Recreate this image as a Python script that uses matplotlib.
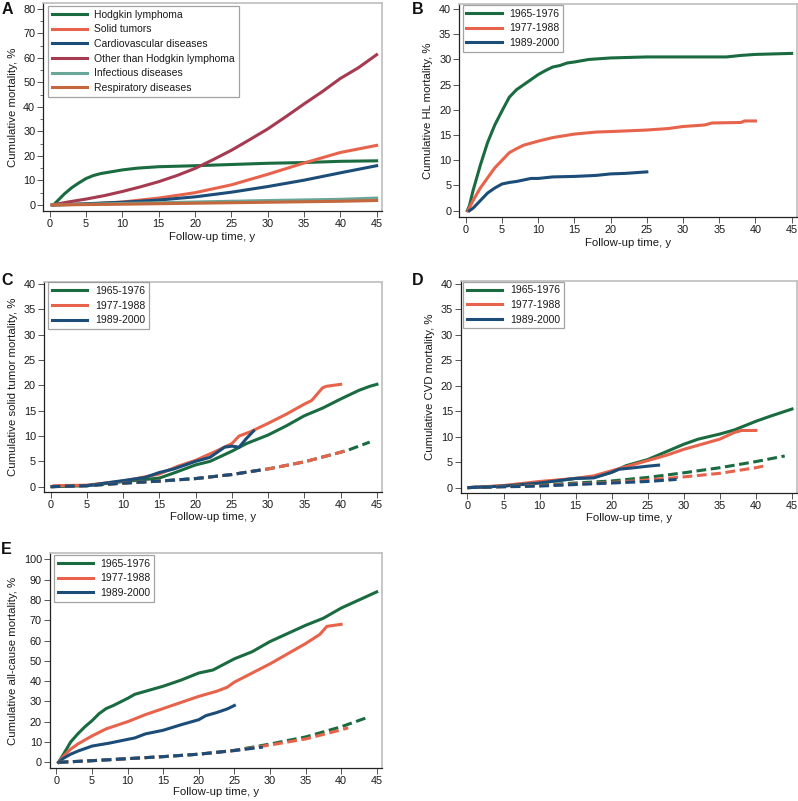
import matplotlib
matplotlib.use("Agg")
import matplotlib.pyplot as plt
from matplotlib.ticker import MultipleLocator

plt.rcParams['font.family'] = ['Liberation Sans', 'DejaVu Sans']

GREEN = '#1a6b40'
ORANGE = '#e8634b'
BLUE = '#1c4d78'
MAROON = '#a53a50'
TEAL = '#6aa698'
BROWN = '#c4673d'

cohorts = ['1965-1976', '1977-1988', '1989-2000']

# ---------------- Panel A ----------------
a_hl_x = [0.5, 1, 2, 3, 4, 5, 6, 7, 8, 9, 10, 12, 15, 20, 25, 30, 35, 40, 45]
a_hl_y = [0, 1.5, 4.5, 7, 9, 10.8, 12, 12.8, 13.3, 13.8, 14.3, 15, 15.6, 16, 16.5, 17, 17.3, 17.8, 18]
a_st_x = [0.5, 5, 10, 15, 20, 25, 30, 35, 40, 45]
a_st_y = [0, 0.3, 1.2, 2.8, 5, 8.2, 12.5, 17.1, 21.4, 24.3]
a_cvd_x = [0.5, 5, 10, 15, 20, 25, 30, 35, 40, 45]
a_cvd_y = [0, 0.5, 1.1, 2.0, 3.3, 5.2, 7.5, 10.1, 13.1, 16]
a_oth_x = [0.3, 2.5, 5, 7.5, 10, 12.5, 15, 17.5, 20, 22.5, 25, 27.5, 30, 32.5, 35, 37.5, 40, 42.5, 45]
a_oth_y = [0, 1.2, 2.4, 3.8, 5.5, 7.4, 9.5, 12, 14.9, 18.5, 22.3, 26.6, 31, 36, 41.2, 46.2, 51.6, 56, 61.3]
a_inf_x = [0.3, 10, 20, 30, 40, 45]
a_inf_y = [0, 0.6, 1.2, 1.8, 2.3, 2.8]
a_resp_x = [0.3, 10, 20, 30, 40, 45]
a_resp_y = [0, 0.3, 0.7, 1.1, 1.5, 1.8]
a_labels = ['Hodgkin lymphoma', 'Solid tumors', 'Cardiovascular diseases',
            'Other than Hodgkin lymphoma', 'Infectious diseases', 'Respiratory diseases']

# ---------------- Panel B (HL mortality) ----------------
b_g_x = [0.2, 0.5, 1, 1.5, 2, 3, 4, 5, 6, 7, 8, 9, 10, 11, 12, 13, 14, 15, 17, 20, 25, 36, 38, 40, 45]
b_g_y = [0, 1, 4, 6.5, 9, 13.5, 17, 19.8, 22.5, 24, 25, 26, 27, 27.8, 28.5, 28.8, 29.3, 29.5, 30, 30.3, 30.5, 30.5, 30.8, 31, 31.2]
b_o_x = [0.3, 1, 2, 3, 4, 5, 6, 7, 8, 10, 12, 15, 18, 20, 25, 28, 30, 33, 34, 38, 38.5, 40]
b_o_y = [0, 2, 4.5, 6.5, 8.5, 10, 11.5, 12.3, 13, 13.8, 14.5, 15.2, 15.6, 15.7, 16, 16.3, 16.7, 17, 17.4, 17.5, 17.8, 17.8]
b_b_x = [0.5, 1, 2, 3, 4, 5, 6, 7, 8, 9, 10, 12, 15, 18, 20, 22, 25]
b_b_y = [0, 0.5, 2, 3.5, 4.5, 5.3, 5.6, 5.8, 6.1, 6.4, 6.4, 6.7, 6.8, 7, 7.3, 7.4, 7.7]

# ---------------- Panel C (solid tumor mortality) ----------------
c_g_x = [0.3, 5, 10, 15, 17, 20, 22, 25, 27, 30, 32.5, 35, 37.5, 40, 42.5, 44, 45]
c_g_y = [0, 0.2, 1, 1.7, 2.7, 4.3, 5, 7, 8.5, 10.2, 12, 14, 15.5, 17.3, 19, 19.8, 20.2]
c_o_x = [0.5, 5, 10, 15, 17.5, 20, 22.5, 25, 26, 27.5, 30, 32.5, 35, 36, 37.5, 38, 40]
c_o_y = [0.2, 0.3, 1.1, 2.5, 4, 5.2, 6.8, 8.5, 10, 10.8, 12.5, 14.3, 16.3, 17, 19.5, 19.8, 20.2]
c_b_x = [5, 10, 13, 15, 17, 20, 22, 24, 25, 26, 27, 28]
c_b_y = [0.2, 1.2, 1.8, 2.8, 3.5, 5, 5.8, 7.8, 8, 7.8, 9.5, 11]
c_exp_x = [0, 5, 10, 15, 20, 25, 29, 30, 35, 40, 41, 44]
c_exp_y = [0, 0.2, 0.7, 1.1, 1.6, 2.4, 3.3, 3.5, 4.9, 6.8, 7.2, 8.8]
c_exp_end = [44, 41, 29]

# ---------------- Panel D (CVD mortality) ----------------
d_g_x = [0.2, 5, 10, 15, 17.5, 20, 22, 25, 27, 30, 32, 35, 37, 40, 42, 45]
d_g_y = [0, 0.3, 1, 1.8, 2, 3, 4.3, 5.5, 6.7, 8.5, 9.5, 10.5, 11.3, 13, 14, 15.4]
d_o_x = [0.2, 5, 10, 15, 17.5, 20, 22.5, 25, 27.5, 30, 32.5, 35, 37, 38, 40]
d_o_y = [0, 0.4, 1.2, 1.8, 2.3, 3.3, 4.3, 5.3, 6.3, 7.5, 8.5, 9.5, 10.8, 11.2, 11.2]
d_b_x = [0.2, 5, 10, 15, 17.5, 20, 21, 22.5, 25, 26.5]
d_b_y = [0, 0.3, 0.9, 1.8, 1.9, 3, 3.6, 3.8, 4.2, 4.4]
d_eg_x = [0, 10, 20, 25, 30, 35, 40, 44]
d_eg_y = [0, 0.5, 1.3, 2, 2.9, 3.9, 5.1, 6.2]
d_eo_x = [0, 10, 20, 25, 30, 35, 40, 41]
d_eo_y = [0, 0.4, 1, 1.5, 2.1, 2.8, 3.9, 4.2]
d_eb_x = [0, 10, 20, 25, 29]
d_eb_y = [0, 0.3, 0.9, 1.2, 1.6]

# ---------------- Panel E (all-cause mortality) ----------------
e_g_x = [0.3, 1, 2, 3, 4, 5, 6, 7, 8, 10, 11, 12, 15, 17.5, 20, 22, 25, 27.5, 30, 32.5, 35, 37.5, 40, 42.5, 45]
e_g_y = [0, 4, 10, 14, 17.5, 20.5, 24, 26.5, 28, 31.5, 33.5, 34.5, 37.5, 40.5, 44, 45.5, 51, 54.5, 59.5, 63.5, 67.5, 71, 76, 80, 84]
e_o_x = [0.3, 1, 2, 3, 4, 5, 7, 10, 12.5, 15, 17.5, 20, 22.5, 24, 25, 27.5, 30, 32.5, 35, 37, 38, 40]
e_o_y = [0, 3, 6.5, 9, 11, 13, 16.5, 20, 23.5, 26.5, 29.5, 32.5, 35, 37, 39.5, 44, 48.5, 53.5, 58.5, 63, 67, 68]
e_b_x = [0.3, 1, 2, 3, 5, 7.5, 10, 11, 12.5, 15, 17.5, 20, 21, 22.5, 24, 25]
e_b_y = [0, 2, 4, 5.5, 8, 9.5, 11.3, 12, 14, 15.8, 18.5, 21, 23, 24.5, 26.3, 28]
e_eg_x = [0.3, 5, 10, 15, 20, 25, 30, 35, 40, 44]
e_eg_y = [0, 0.8, 1.8, 2.8, 4, 5.9, 9, 12.5, 17.5, 22.5]
e_eo_x = [0.3, 5, 10, 15, 20, 25, 30, 35, 40, 41]
e_eo_y = [0, 0.8, 1.8, 2.8, 4, 5.8, 8.5, 11.5, 16, 17]
e_eb_x = [0.3, 5, 10, 15, 20, 25, 29]
e_eb_y = [0, 0.8, 1.8, 2.8, 4, 5.8, 7.5]

fig = plt.figure(figsize=(7.98, 8.01), dpi=100)
W, H = 798.0, 801.0

def make_ax(l, r, t, b):
    return fig.add_axes([l / W, 1 - b / H, (r - l) / W, (b - t) / H])

LW = 2.2
TXT = '#1a1a1a'
DASH = (0, (3.2, 1.5))

def style(ax, ylim, ymaj, ylabel, ymin=None, xlpad=2.5):
    ax.set_xlim(-0.9, 45.7)
    ax.set_ylim(*ylim)
    ax.xaxis.set_major_locator(MultipleLocator(5))
    ax.yaxis.set_major_locator(MultipleLocator(ymaj))
    if ymin:
        ax.yaxis.set_minor_locator(MultipleLocator(ymin))
        ax.tick_params(axis='y', which='minor', length=2.5, width=0.6, color='#555555')
    ax.tick_params(axis='both', which='major', direction='out', length=4, width=0.7,
                   labelsize=7.8, colors='#555555', labelcolor=TXT, pad=1.8)
    for s in ['left', 'bottom']:
        ax.spines[s].set_color('#222222')
        ax.spines[s].set_linewidth(0.9)
    for s in ['top', 'right']:
        ax.spines[s].set_color('#bdbdbd')
        ax.spines[s].set_linewidth(1.2)
    ax.set_xlabel('Follow-up time, y', fontsize=8.2, color=TXT, labelpad=xlpad)
    ax.set_ylabel(ylabel, fontsize=8.2, color=TXT, labelpad=4)

def letter(txt, x, y):
    fig.text(x / W, 1 - y / H, txt, fontsize=11.5, fontweight='bold',
             ha='left', va='top', color='#111111')

def leg(ax, anchor, fs=7.5):
    lg = ax.legend(loc='upper left', bbox_to_anchor=anchor, borderaxespad=0,
                   fontsize=fs, handlelength=3.4, handletextpad=0.7, labelspacing=0.45,
                   borderpad=0.35, fancybox=False, frameon=True)
    lg.get_frame().set_edgecolor('#8c8c8c')
    lg.get_frame().set_linewidth(0.9)
    for t in lg.get_texts():
        t.set_color(TXT)
    return lg

# Panel A
axA = make_ax(43.3, 381.7, 3, 210.7)
axA.plot(a_hl_x, a_hl_y, color=GREEN, lw=LW, label=a_labels[0], zorder=3)
axA.plot(a_st_x, a_st_y, color=ORANGE, lw=LW, label=a_labels[1], zorder=3)
axA.plot(a_cvd_x, a_cvd_y, color=BLUE, lw=LW, label=a_labels[2], zorder=3)
axA.plot(a_oth_x, a_oth_y, color=MAROON, lw=LW, label=a_labels[3], zorder=3)
axA.plot(a_inf_x, a_inf_y, color=TEAL, lw=LW, label=a_labels[4], zorder=3)
axA.plot(a_resp_x, a_resp_y, color=BROWN, lw=LW, label=a_labels[5], zorder=3)
style(axA, (-2.35, 82.4), 10, 'Cumulative mortality, %', ymin=5)
leg(axA, (0.014, 0.986))
letter('A', 2, 2)

# Panel B
axB = make_ax(459.3, 796.7, 4, 216.7)
axB.plot(b_g_x, b_g_y, color=GREEN, lw=LW, label=cohorts[0])
axB.plot(b_o_x, b_o_y, color=ORANGE, lw=LW, label=cohorts[1])
axB.plot(b_b_x, b_b_y, color=BLUE, lw=LW, label=cohorts[2])
style(axB, (-1.19, 41.0), 5, 'Cumulative HL mortality, %')
leg(axB, (0.01, 0.995))
letter('B', 412, 2)

# Panel C
axC = make_ax(44, 382, 281.7, 491.7)
axC.plot(c_g_x, c_g_y, color=GREEN, lw=LW, label=cohorts[0])
axC.plot(c_o_x, c_o_y, color=ORANGE, lw=LW, label=cohorts[1])
axC.plot(c_b_x, c_b_y, color=BLUE, lw=LW, label=cohorts[2])
for end, col in zip(c_exp_end, [GREEN, ORANGE, BLUE]):
    xs = [x for x in c_exp_x if x <= end]
    ys = c_exp_y[:len(xs)]
    axC.plot(xs, ys, color=col, lw=LW, ls=DASH)
style(axC, (-0.99, 40.45), 5, 'Cumulative solid tumor mortality, %', xlpad=1.5)
leg(axC, (0.013, 0.997))
letter('C', 1, 273)

# Panel D
axD = make_ax(461, 797, 281, 492.7)
axD.plot(d_g_x, d_g_y, color=GREEN, lw=LW, label=cohorts[0])
axD.plot(d_o_x, d_o_y, color=ORANGE, lw=LW, label=cohorts[1])
axD.plot(d_b_x, d_b_y, color=BLUE, lw=LW, label=cohorts[2])
axD.plot(d_eg_x, d_eg_y, color=GREEN, lw=LW, ls=DASH)
axD.plot(d_eo_x, d_eo_y, color=ORANGE, lw=LW, ls=DASH)
axD.plot(d_eb_x, d_eb_y, color=BLUE, lw=LW, ls=DASH)
style(axD, (-1.0, 40.5), 5, 'Cumulative CVD mortality, %', xlpad=1.5)
leg(axD, (0.007, 0.997))
letter('D', 412, 273)

# Panel E
axE = make_ax(50, 381.7, 552.7, 768.3)
axE.plot(e_g_x, e_g_y, color=GREEN, lw=LW, label=cohorts[0])
axE.plot(e_o_x, e_o_y, color=ORANGE, lw=LW, label=cohorts[1])
axE.plot(e_b_x, e_b_y, color=BLUE, lw=LW, label=cohorts[2])
axE.plot(e_eg_x, e_eg_y, color=GREEN, lw=LW, ls=DASH)
axE.plot(e_eo_x, e_eo_y, color=ORANGE, lw=LW, ls=DASH)
axE.plot(e_eb_x, e_eb_y, color=BLUE, lw=LW, ls=DASH)
style(axE, (-2.95, 103.3), 10, 'Cumulative all-cause mortality, %', xlpad=0.5)
leg(axE, (0.012, 0.99))
letter('E', 1, 542)

fig.savefig('out.png', dpi=100)
